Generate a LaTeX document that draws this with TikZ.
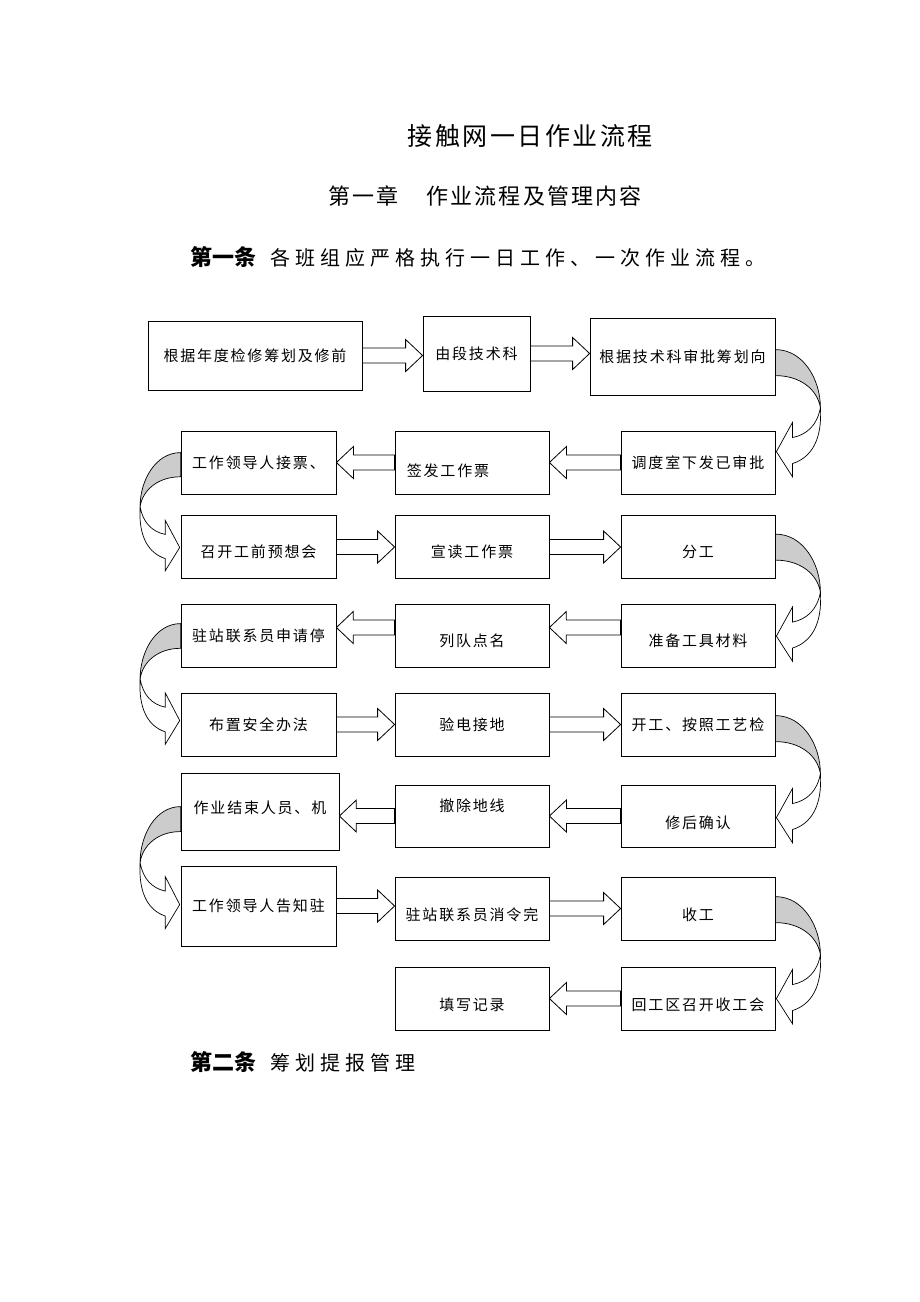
\documentclass[tikz,border=0pt]{standalone}
\usepackage{fontspec}
\setmainfont{Noto Sans CJK SC}
\newfontfamily\boxfont[LetterSpace=12]{Noto Sans CJK SC}
\newfontfamily\songfont[LetterSpace=25]{Noto Sans CJK SC}
\newfontfamily\titlefont[LetterSpace=10]{Noto Sans CJK SC}
\usetikzlibrary{calc}
% move a box text without changing the box
\newcommand{\movetxt}[3]{\hspace*{#1}\raisebox{#2}[\height][\depth]{#3}\hspace*{-#1}}
% curved turn arrow hanging on a box side
\newcommand{\turnarrow}[3]{%
  \begin{scope}[shift={(#1)}, yshift=-#2pt, #3, line width=0.7pt]
    \filldraw[fill=black!20] (0,0) .. controls (28,0) and (45,30) .. (45,58)
      .. controls (42,40) and (25,26) .. (0,26) -- cycle;
    \filldraw[fill=white] (45,58) .. controls (42,75) and (32,85) .. (17,88)
      -- (17,73) -- (1,102) -- (17,127) -- (17,114)
      .. controls (36,108) and (47,90) .. (45,58) -- cycle;
  \end{scope}}

\begin{document}
\begin{tikzpicture}[x=1pt,y=-1pt]
    \tikzset{%
      box/.style={draw, line width=0.8pt, inner sep=0pt, minimum width=154pt,
        minimum height=63pt, font=\boxfont\fontsize{15}{18}\selectfont},
      blk/.style={draw, line width=0.8pt, fill=white,
        to path={let \p1=(\tikztostart), \p2=(\tikztotarget),
          \p3=($(\tikztotarget)!17pt!(\tikztostart)$) in
          (\x1,\y1+7.5pt) -- (\x3,\y1+7.5pt) -- (\x3,\y1+16pt) -- (\x2,\y1)
          -- (\x3,\y1-16pt) -- (\x3,\y1-7.5pt) -- (\x1,\y1-7.5pt) -- cycle}},
    }
    \useasboundingbox (0,0) rectangle (920,1302);

    % headings
    \node[font=\titlefont\fontsize{25}{30}\selectfont] (title) at (530,136) {接触网一日作业流程};
    \node[font=\titlefont\fontsize{22}{26}\selectfont] (chap) at (485,196) {第一章\hspace{28pt}作业流程及管理内容};
    \node[anchor=west, inner sep=0pt] (art1) at (190,257)
      {{\fontsize{22}{26}\selectfont\bfseries 第一条}\hspace{14pt}{\songfont\fontsize{20}{24}\selectfont 各班组应严格执行一日工作、一次作业流程。}};
    \node[anchor=west, inner sep=0pt] (art2) at (190,1062)
      {{\fontsize{22}{26}\selectfont\bfseries 第二条}\hspace{14pt}{\songfont\fontsize{20}{24}\selectfont 筹划提报管理}};

    % row 1
    \node[box, minimum width=214pt, minimum height=69pt] (A) at (255,355.5) {根据年度检修筹划及修前};
    \node[box, minimum width=107pt, minimum height=75pt] (B) at (476.5,353.5) {由段技术科};
    \node[box, minimum width=185pt, minimum height=77pt] (C) at (682.5,356.5) {根据技术科审批筹划向};
    \draw[blk] (A.east) to (B.west);
    \draw[blk] (B.east) to (C.west);
    % row 2
    \node[box, minimum width=155pt] (D) at (258.5,462.5) {工作领导人接票、};
    \node[box] (E) at (472,462.5) {\movetxt{-24pt}{-8pt}{签发工作票}};
    \node[box] (F) at (698,462.5) {调度室下发已审批};
    \draw[blk] (F.west) to (E.east);
    \draw[blk] (E.west) to (D.east);
    % row 3
    \node[box, minimum width=155pt] (G) at (258.5,547) {\movetxt{0pt}{-5pt}{召开工前预想会}};
    \node[box] (H) at (472,547) {\movetxt{0pt}{-5pt}{宣读工作票}};
    \node[box] (I) at (698,547) {\movetxt{0pt}{-5pt}{分工}};
    \draw[blk] (G.east) to (H.west);
    \draw[blk] (H.east) to (I.west);
    % row 4
    \node[box, minimum width=155pt] (J) at (258.5,635.5) {驻站联系员申请停};
    \node[box] (K) at (472,635.5) {\movetxt{0pt}{-5pt}{列队点名}};
    \node[box] (L) at (698,635.5) {\movetxt{0pt}{-5pt}{准备工具材料}};
    \coordinate (l4) at ([yshift=8pt]L.west);
    \coordinate (k4) at ([yshift=8pt]K.west);
    \draw[blk] (l4) to (K.east);
    \draw[blk] (k4) to (J.east);
    % row 5
    \node[box, minimum width=155pt] (M) at (258.5,724.5) {布置安全办法};
    \node[box] (N) at (472,724.5) {验电接地};
    \node[box] (O) at (698,724.5) {开工、按照工艺检};
    \draw[blk] (M.east) to (N.west);
    \draw[blk] (N.east) to (O.west);
    % row 6
    \node[box, minimum width=158pt, minimum height=77pt] (P) at (260,811.5) {\movetxt{0pt}{4pt}{作业结束人员、机}};
    \node[box, minimum height=62pt] (Q) at (472,816) {\movetxt{0pt}{10pt}{撤除地线}};
    \node[box, minimum height=62pt] (R) at (698,816) {\movetxt{0pt}{-7pt}{修后确认}};
    \draw[blk] (R.west) to (Q.east);
    \draw[blk] (Q.west) to (P.east);
    % row 7
    \node[box, minimum width=155pt, minimum height=80pt] (S) at (258.5,906) {工作领导人告知驻};
    \node[box] (T) at (472,908.5) {\movetxt{0pt}{-6pt}{驻站联系员消令完}};
    \node[box] (U) at (698,908.5) {\movetxt{0pt}{-6pt}{收工}};
    \draw[blk] (S.east) to (T.west);
    \draw[blk] (T.east) to (U.west);
    % row 8
    \node[box] (V) at (472,998.5) {\movetxt{0pt}{-6pt}{填写记录}};
    \node[box] (W) at (698,998.5) {\movetxt{0pt}{-6pt}{回工区召开收工会}};
    \draw[blk] (W.west) to (V.east);

    % turns between rows
    \turnarrow{C.north east}{32}{}
    \turnarrow{I.north east}{19}{}
    \turnarrow{O.north east}{23}{}
    \turnarrow{U.north east}{20}{}
    \turnarrow{D.north west}{22}{xscale=-0.9,yscale=0.93}
    \turnarrow{J.north west}{20}{xscale=-0.9,yscale=0.95}
    \turnarrow{P.north west}{34}{xscale=-0.9,yscale=0.96}
\end{tikzpicture}
\end{document}
